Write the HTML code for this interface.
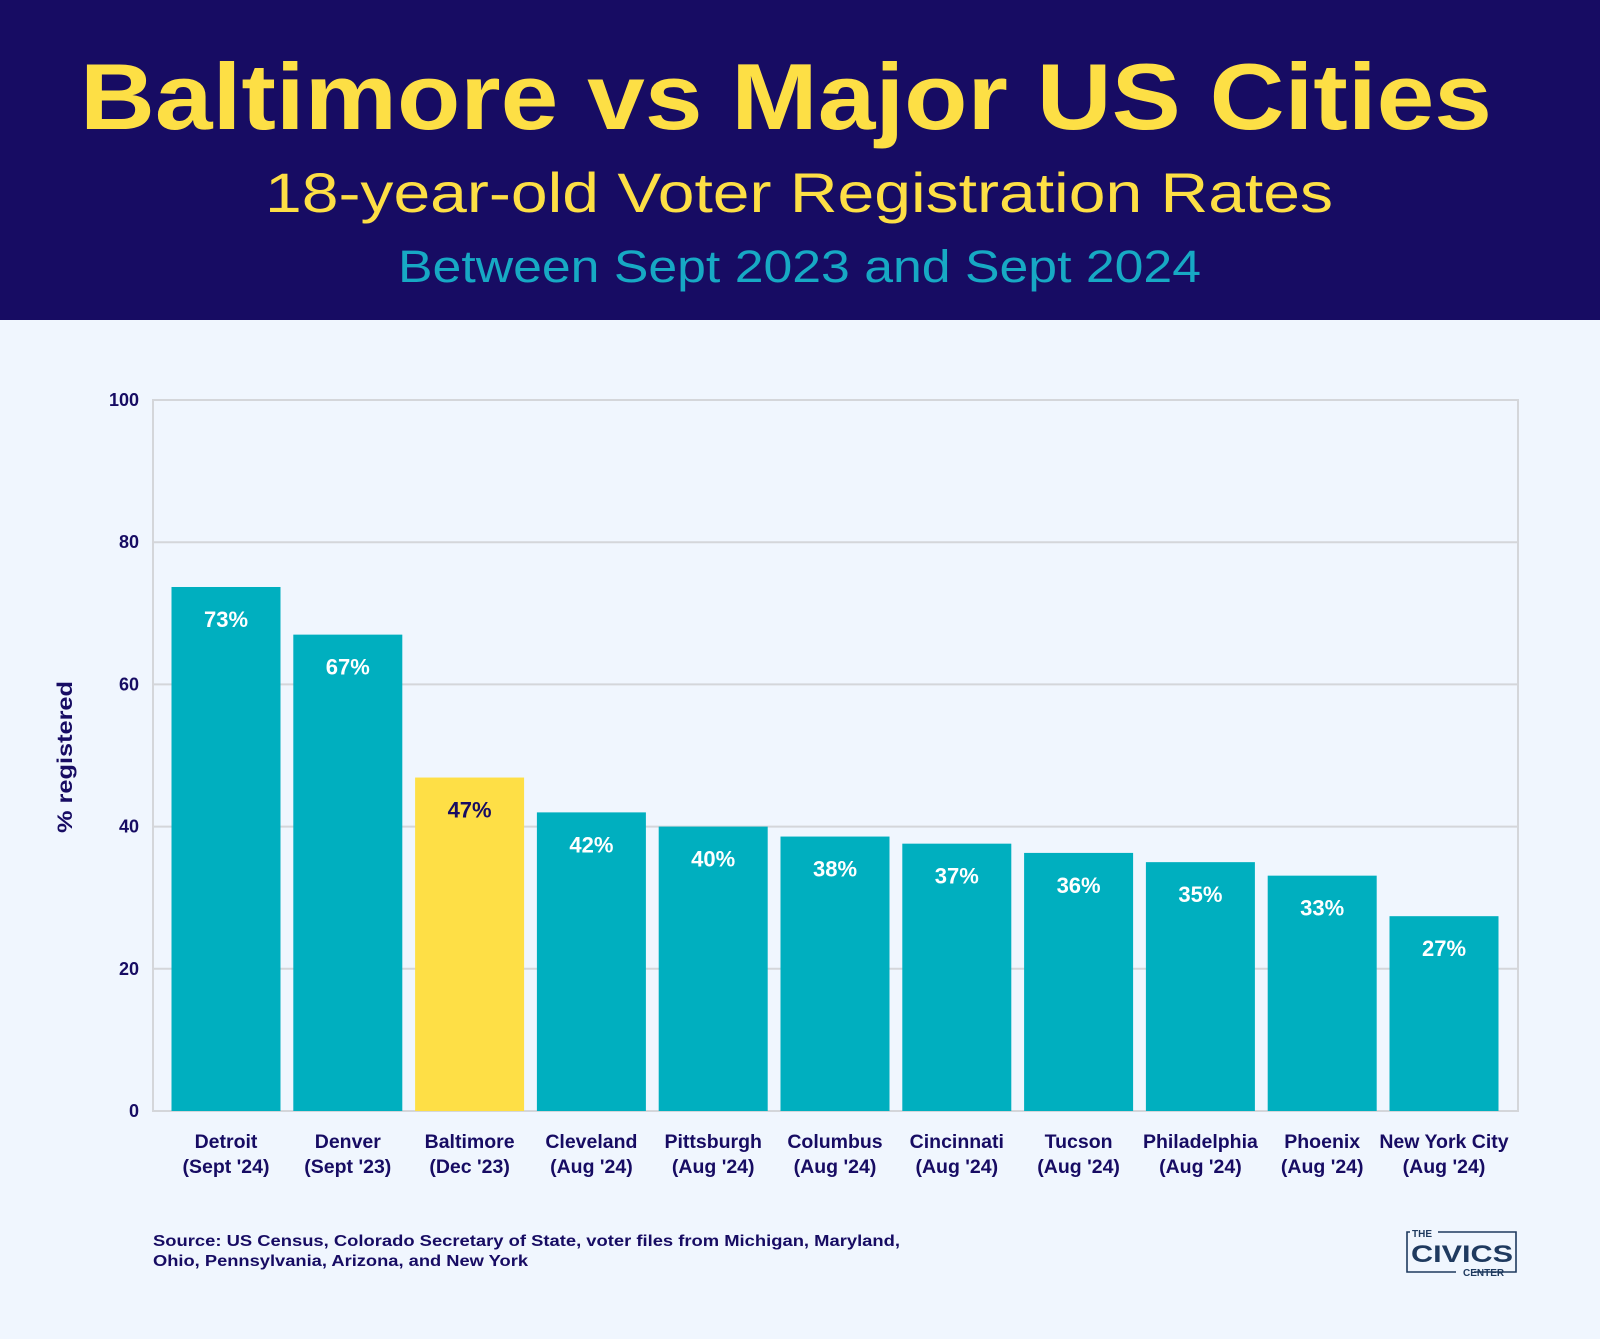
<!DOCTYPE html>
<html><head><meta charset="utf-8"><style>
html,body{margin:0;padding:0;background:#f0f6fe;}
body{width:1600px;height:1334px;position:relative;overflow:hidden;font-family:"Liberation Sans",sans-serif;}
</style></head><body>
<svg width="1600" height="1334" xmlns="http://www.w3.org/2000/svg">
<rect x="0" y="0" width="1600" height="320" fill="#170c63"/>
<text x="80" y="129" font-family="Liberation Sans" font-weight="bold" font-size="94" fill="#fddf45" textLength="1412" lengthAdjust="spacingAndGlyphs">Baltimore vs Major US Cities</text>
<text x="265" y="212" font-family="Liberation Sans" font-size="56" fill="#fddf45" textLength="1068" lengthAdjust="spacingAndGlyphs">18-year-old Voter Registration Rates</text>
<text x="398" y="282" font-family="Liberation Sans" font-size="45" fill="#17a9c4" textLength="803" lengthAdjust="spacingAndGlyphs">Between Sept 2023 and Sept 2024</text>
<g id="plot"></g>
<text x="153" y="1246" font-size="15.5" font-weight="bold" fill="#170c63" textLength="747" lengthAdjust="spacingAndGlyphs">Source: US Census, Colorado Secretary of State, voter files from Michigan, Maryland,</text>
<text x="153" y="1266" font-size="15.5" font-weight="bold" fill="#170c63" textLength="375" lengthAdjust="spacingAndGlyphs">Ohio, Pennsylvania, Arizona, and New York</text>
<g fill="#1f3a5f" stroke="#1f3a5f">
<path d="M1407 1234 V1272 H1456 M1474 1272 H1516 V1268 M1407 1234 V1232 H1410 M1438 1232 H1516 V1270" fill="none" stroke-width="1.6"/>
<text x="1412" y="1237" font-size="10" font-weight="bold" stroke="none">THE</text>
<text x="1411" y="1262" font-size="24" font-weight="bold" stroke="none" textLength="102" lengthAdjust="spacingAndGlyphs">CIVICS</text>
<text x="1463" y="1276" font-size="10" font-weight="bold" stroke="none">CENTER</text>
</g>
</svg>
<script>
const categories=["Detroit","Denver","Baltimore","Cleveland","Pittsburgh","Columbus","Cincinnati","Tucson","Philadelphia","Phoenix","New York City"];
const dates=["(Sept '24)","(Sept '23)","(Dec '23)","(Aug '24)","(Aug '24)","(Aug '24)","(Aug '24)","(Aug '24)","(Aug '24)","(Aug '24)","(Aug '24)"];
const values=[73.7,67.0,46.9,42.0,40.0,38.6,37.6,36.3,35.0,33.1,27.4];
const valueLabels=["73%","67%","47%","42%","40%","38%","37%","36%","35%","33%","27%"];
const yTicks=[0,20,40,60,80,100];
const NS="http://www.w3.org/2000/svg";
const L=153,R=1518,T=400,B=1111;
const y=v=>B-(v/100)*(B-T);
const step=121.8,bw=109,x0=171.5;
const x=i=>x0+i*step;
const g=document.getElementById('plot');
function mk(tag,attrs,txt){const e=document.createElementNS(NS,tag);for(const k in attrs)e.setAttribute(k,attrs[k]);if(txt!=null)e.textContent=txt;g.appendChild(e);return e;}
yTicks.forEach(t=>{
  const ln=mk('line',{x1:L,x2:R,y1:y(t),y2:y(t),stroke:'#d4d6da','stroke-width':2});
  
  
  const tx=mk('text',{x:L-14,y:y(t)+6,'text-anchor':'end','font-size':18,'font-weight':'bold',fill:'#170c63'},String(t));
  
  
});
const fr=mk('rect',{x:L,y:T,width:R-L,height:B-T,fill:'none',stroke:'#d4d6da','stroke-width':2});


const yt=mk('text',{x:0,y:0,transform:'translate(72,757) rotate(-90)','text-anchor':'middle','font-size':21,'font-weight':'bold',fill:'#170c63',textLength:152,lengthAdjust:'spacingAndGlyphs'},'% registered');


values.forEach((v,i)=>{
  const isB=categories[i]==="Baltimore";
  const r=mk('rect',{x:x(i),y:y(v),width:bw,height:B-y(v),fill:isB?'#fedf46':'#00afbf'});
  
  
  const vl=mk('text',{x:x(i)+bw/2,y:y(v)+40,'text-anchor':'middle','font-size':22,'font-weight':'bold',fill:isB?'#170c63':'#ffffff'},valueLabels[i]);
  
  
  const c=mk('text',{x:x(i)+bw/2,y:1148,'text-anchor':'middle','font-size':19.5,'font-weight':'bold',fill:'#170c63'},categories[i]);
  
  
  const d=mk('text',{x:x(i)+bw/2,y:1173,'text-anchor':'middle','font-size':19.5,'font-weight':'bold',fill:'#170c63'},dates[i]);
  
  
});
</script>
</body></html>
